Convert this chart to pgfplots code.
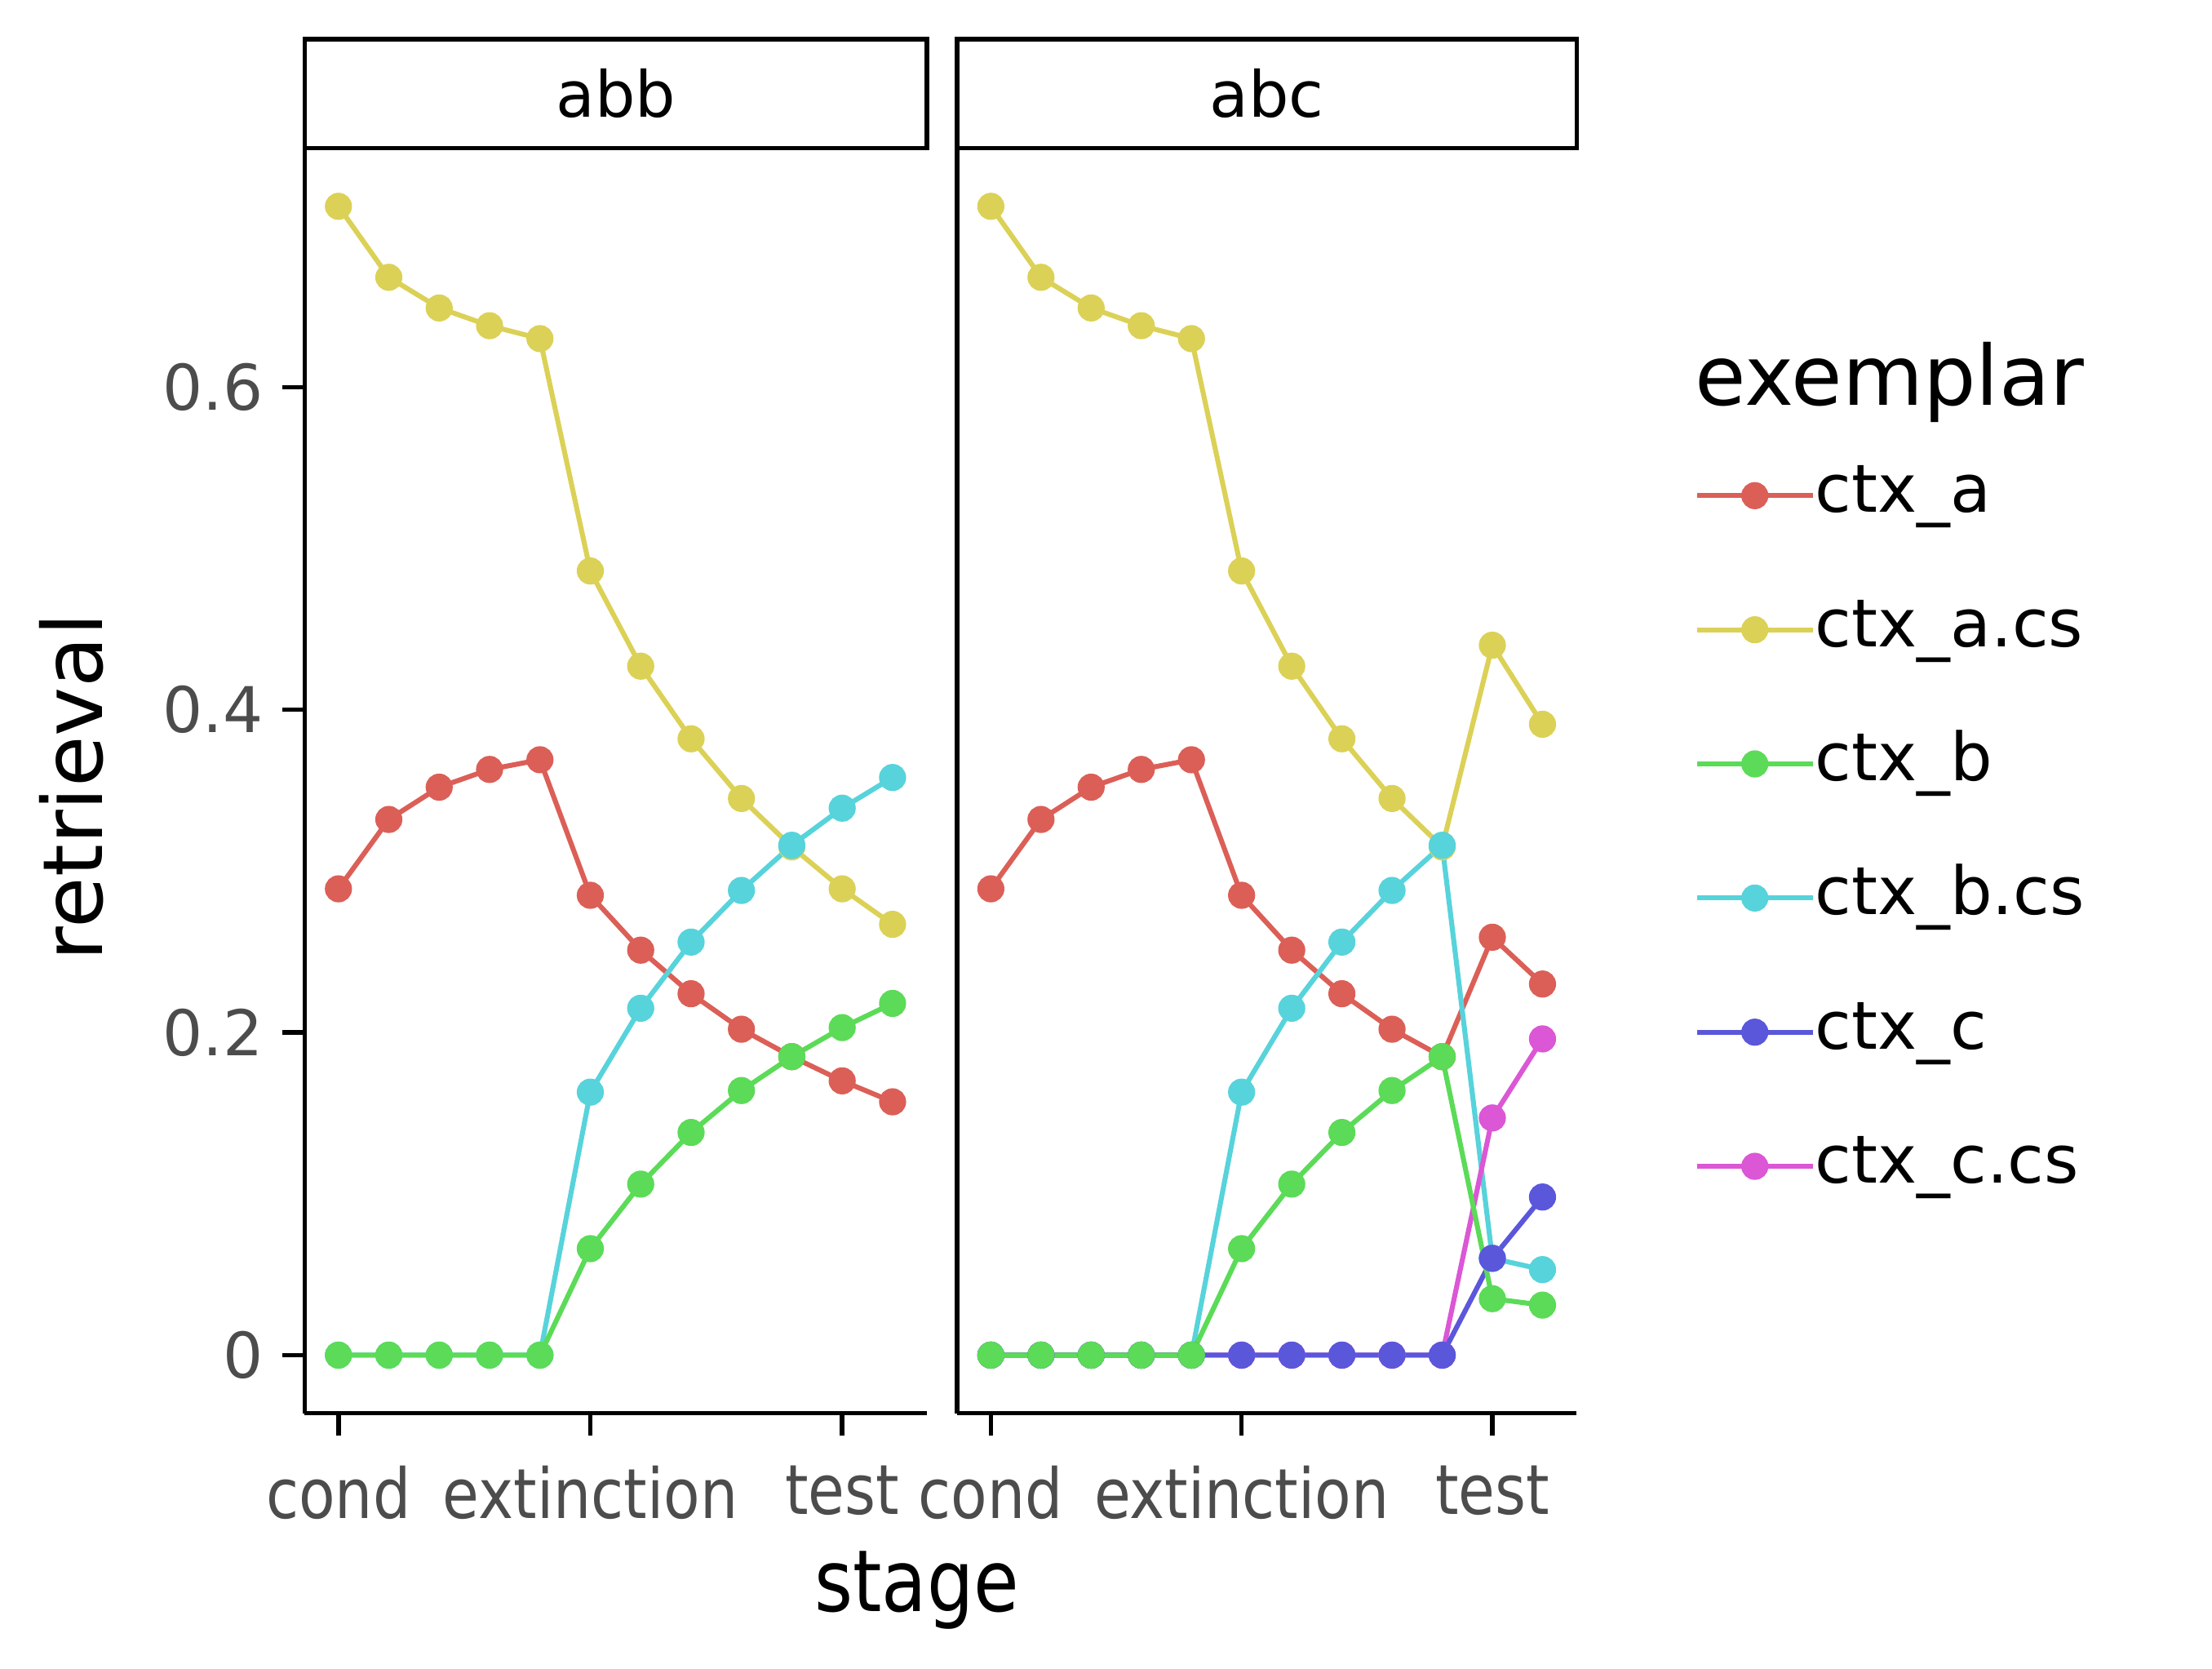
\documentclass[border=0pt]{standalone}
\usepackage{pgfplots}
\pgfplotsset{compat=1.18}
\usepackage{fontspec}
\setmainfont{DejaVu Sans}
\newfontfamily\condfont{DejaVu Sans}[FakeStretch=0.86]
\definecolor{ca}{HTML}{DB5F57}
\definecolor{cacs}{HTML}{DBD157}
\definecolor{cb}{HTML}{5BDB57}
\definecolor{cbcs}{HTML}{57D3DB}
\definecolor{cc}{HTML}{5A57DB}
\definecolor{cccs}{HTML}{DB57D5}
\pgfplotsset{
  panel/.style={width=112.5pt,height=228.7pt,scale only axis,
    xmin=-0.67,xmax=11.68,ymin=-0.036,ymax=0.748,
    axis x line*=bottom, axis y line*=left,
    axis line style={line width=0.8pt,-},
    xtick={0,5,10},xticklabels={cond,extinction,test},
    tick style={line width=0.8pt,black},
    major tick length=4pt, tick align=outside,
    ticklabel style={font=\fontsize{11.4}{13}\selectfont,text=black!70},
    xticklabel style={font=\condfont\fontsize{12.5}{14}\selectfont,text=black!70,yshift=-2pt},
    /pgf/number format/assume math mode=true,
    clip=false,
    every axis plot/.append style={line width=0.9pt,mark=*,mark size=2pt},
  },
}
\begin{document}
\begin{tikzpicture}
\path[use as bounding box] (0,0) rectangle (400pt,301.7pt);
\begin{axis}[panel,at={(55.1pt,46.2pt)},anchor=south west,
  ytick={0,0.2,0.4,0.6},yticklabels={0,0.2,0.4,0.6},
  ylabel={retrieval},ylabel style={font=\fontsize{15}{17}\selectfont,at={(rel axis cs:-0.375,0.495)},anchor=center,rotate=0},
  xlabel={stage},xlabel style={font=\condfont\fontsize{15.5}{17}\selectfont,at={(rel axis cs:0.984,-0.14)},anchor=center}]
\addplot[ca,mark options={fill=ca}] coordinates {(0,0.289)(1,0.332)(2,0.352)(3,0.363)(4,0.369)(5,0.285)(6,0.251)(7,0.224)(8,0.202)(9,0.185)(10,0.170)(11,0.157)};
\addplot[cacs,mark options={fill=cacs}] coordinates {(0,0.712)(1,0.668)(2,0.649)(3,0.638)(4,0.630)(5,0.486)(6,0.427)(7,0.382)(8,0.345)(9,0.315)(10,0.289)(11,0.267)};
\addplot[cbcs,mark options={fill=cbcs}] coordinates {(0,0)(1,0)(2,0)(3,0)(4,0)(5,0.163)(6,0.215)(7,0.256)(8,0.288)(9,0.316)(10,0.339)(11,0.358)};
\addplot[cb,mark options={fill=cb}] coordinates {(0,0)(1,0)(2,0)(3,0)(4,0)(5,0.066)(6,0.106)(7,0.138)(8,0.164)(9,0.185)(10,0.203)(11,0.218)};
\draw[line width=0.8pt] (rel axis cs:0,1) rectangle ([yshift=19.7pt]rel axis cs:1,1);
\node[font=\fontsize{11.5}{13}\selectfont] at ([yshift=9.85pt]rel axis cs:0.5,1) {abb};
\end{axis}
\begin{axis}[panel,at={(173.1pt,46.2pt)},anchor=south west,width=112pt,
  ytick=\empty,
  legend style={draw=none,fill=none,at={(1.19,0.7516)},anchor=north west,
    inner sep=0pt,outer sep=0pt,
    font=\fontsize{12}{14}\selectfont,row sep=12.25pt,
    nodes={text height=9pt,text depth=3pt,inner sep=0pt,outer xsep=2pt},
    legend cell align=left},
  legend image code/.code={\draw[#1,line width=0.9pt] (0pt,0pt) -- (21pt,0pt);\draw[#1,fill] (10.5pt,0pt) circle (2pt);}]
\addplot[ca,mark options={fill=ca}] coordinates {(0,0.289)(1,0.332)(2,0.352)(3,0.363)(4,0.369)(5,0.285)(6,0.251)(7,0.224)(8,0.202)(9,0.185)(10,0.259)(11,0.230)};
\addplot[cacs,mark options={fill=cacs}] coordinates {(0,0.712)(1,0.668)(2,0.649)(3,0.638)(4,0.630)(5,0.486)(6,0.427)(7,0.382)(8,0.345)(9,0.315)(10,0.440)(11,0.391)};
\addplot[cbcs,mark options={fill=cbcs},forget plot] coordinates {(0,0)(1,0)(2,0)(3,0)(4,0)(5,0.163)(6,0.215)(7,0.256)(8,0.288)(9,0.316)(10,0.060)(11,0.053)};
\addplot[cccs,mark options={fill=cccs},forget plot] coordinates {(0,0)(1,0)(2,0)(3,0)(4,0)(5,0)(6,0)(7,0)(8,0)(9,0)(10,0.147)(11,0.196)};
\addplot[cc,mark options={fill=cc},forget plot] coordinates {(0,0)(1,0)(2,0)(3,0)(4,0)(5,0)(6,0)(7,0)(8,0)(9,0)(10,0.060)(11,0.098)};
\addplot[cb,mark options={fill=cb}] coordinates {(0,0)(1,0)(2,0)(3,0)(4,0)(5,0.066)(6,0.106)(7,0.138)(8,0.164)(9,0.185)(10,0.035)(11,0.031)};
\addlegendimage{cbcs}
\addlegendimage{cc}
\addlegendimage{cccs}
\legend{ctx\_a,ctx\_a.cs,ctx\_b,ctx\_b.cs,ctx\_c,ctx\_c.cs}
\draw[line width=0.8pt] (rel axis cs:0,1) rectangle ([yshift=19.7pt]rel axis cs:1,1);
\node[font=\fontsize{11.5}{13}\selectfont] at ([yshift=9.85pt]rel axis cs:0.5,1) {abc};
\node[font=\fontsize{15}{17}\selectfont,anchor=west,inner sep=0pt] at (rel axis cs:1.19,0.815) {exemplar};
\end{axis}
\end{tikzpicture}
\end{document}
